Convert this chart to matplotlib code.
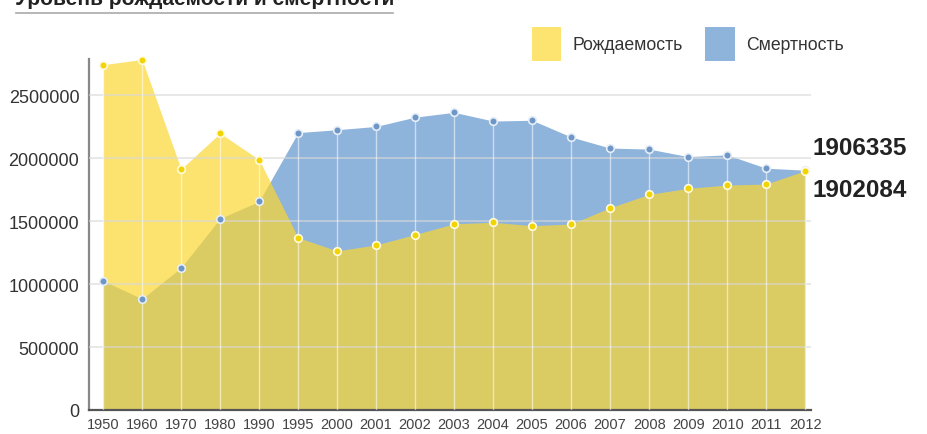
import numpy as np
import matplotlib
matplotlib.use("Agg")
import matplotlib.pyplot as plt
from matplotlib.lines import Line2D
from matplotlib.patches import Rectangle

plt.rcParams['font.family'] = ['Liberation Sans', 'DejaVu Sans']

years = ['1950', '1960', '1970', '1980', '1990', '1995', '2000', '2001', '2002',
         '2003', '2004', '2005', '2006', '2007', '2008', '2009', '2010', '2011', '2012']
births = [2745000, 2786000, 1915000, 2200000, 1990000, 1370000, 1265000, 1312000, 1395000,
          1480000, 1492000, 1465000, 1478000, 1608000, 1714000, 1762000, 1788000, 1796000, 1902084]
deaths = [1028000, 884000, 1131000, 1522000, 1658000, 2205000, 2228000, 2254000, 2328000,
          2366000, 2297000, 2303000, 2170000, 2082000, 2074000, 2014000, 2028000, 1922000, 1906335]
ticks = [0, 500000, 1000000, 1500000, 2000000, 2500000]

x = np.arange(len(years))
b = np.array(births)
d = np.array(deaths)

fig = plt.figure(figsize=(9.27, 4.35), dpi=100)
ax = fig.add_axes([89/927, 24/435, (811-89)/927, (411-60)/435])

# areas: blue below, translucent yellow on top gives the olive overlap
ax.fill_between(x, 0, d, color='#8fb4dc', lw=0, zorder=1)
ax.fill_between(x, 0, b, color='#fcd630', alpha=0.7, lw=0, zorder=2)

for t in ticks[1:]:
    ax.axhline(t, color='#d8d8d8', lw=1.2, alpha=0.7, zorder=3)

ax.vlines(x, 0, np.maximum(b, d), color='white', lw=1, alpha=0.55, zorder=4)

ax.plot(x, d, 'o', ms=5.5, mfc='#6e96c6', mec='#e6eef8', mew=1.2, zorder=5, clip_on=False)
ax.plot(x, b, 'o', ms=5.5, mfc='#f2d400', mec='#fffbe0', mew=1.2, zorder=6, clip_on=False)

ax.set_xlim(-0.36, 18.15)
ax.set_ylim(0, 2790000)
ax.set_xticks(x)
ax.set_xticklabels(years, fontsize=10.5, color='#444444')
ax.set_yticks(ticks)
ax.set_yticklabels([str(t) for t in ticks], fontsize=13, color='#333333')
ax.tick_params(length=0, pad=7)
ax.tick_params(axis='x', pad=5)

for s in ['top', 'right']:
    ax.spines[s].set_visible(False)
ax.spines['left'].set_color('#888888')
ax.spines['left'].set_linewidth(1.6)
ax.spines['bottom'].set_color('#555555')
ax.spines['bottom'].set_linewidth(1.6)

# end labels
ax.text(1.002, 2087000, f'{deaths[-1]}', transform=ax.get_yaxis_transform(),
        fontsize=17.5, fontweight='bold', color='#222222', va='center', ha='left', clip_on=False)
ax.text(1.002, 1754000, f'{births[-1]}', transform=ax.get_yaxis_transform(),
        fontsize=17.5, fontweight='bold', color='#222222', va='center', ha='left', clip_on=False)

# legend
fig.add_artist(Rectangle((532/927, 1 - 62/435), 29/927, 34/435, transform=fig.transFigure,
                         color='#fde36f', lw=0))
fig.text(573/927, 1 - 46/435, 'Рождаемость', fontsize=12.7, color='#333333', va='center')
fig.add_artist(Rectangle((705/927, 1 - 62/435), 30/927, 34/435, transform=fig.transFigure,
                         color='#8fb4dc', lw=0))
fig.text(746/927, 1 - 46/435, 'Смертность', fontsize=12.7, color='#333333', va='center')

# title (cut at the top edge, as in the source) and its underline
fig.text(15/927, 1 - 5/435, 'Уровень рождаемости и смертности', fontsize=15,
         fontweight='bold', color='#222222', va='baseline', ha='left')
fig.add_artist(Line2D([16/927, 393/927], [1 - 14/435, 1 - 14/435], transform=fig.transFigure,
                      color='#aaaaaa', lw=1.2))

fig.savefig('out.png', dpi=100)
